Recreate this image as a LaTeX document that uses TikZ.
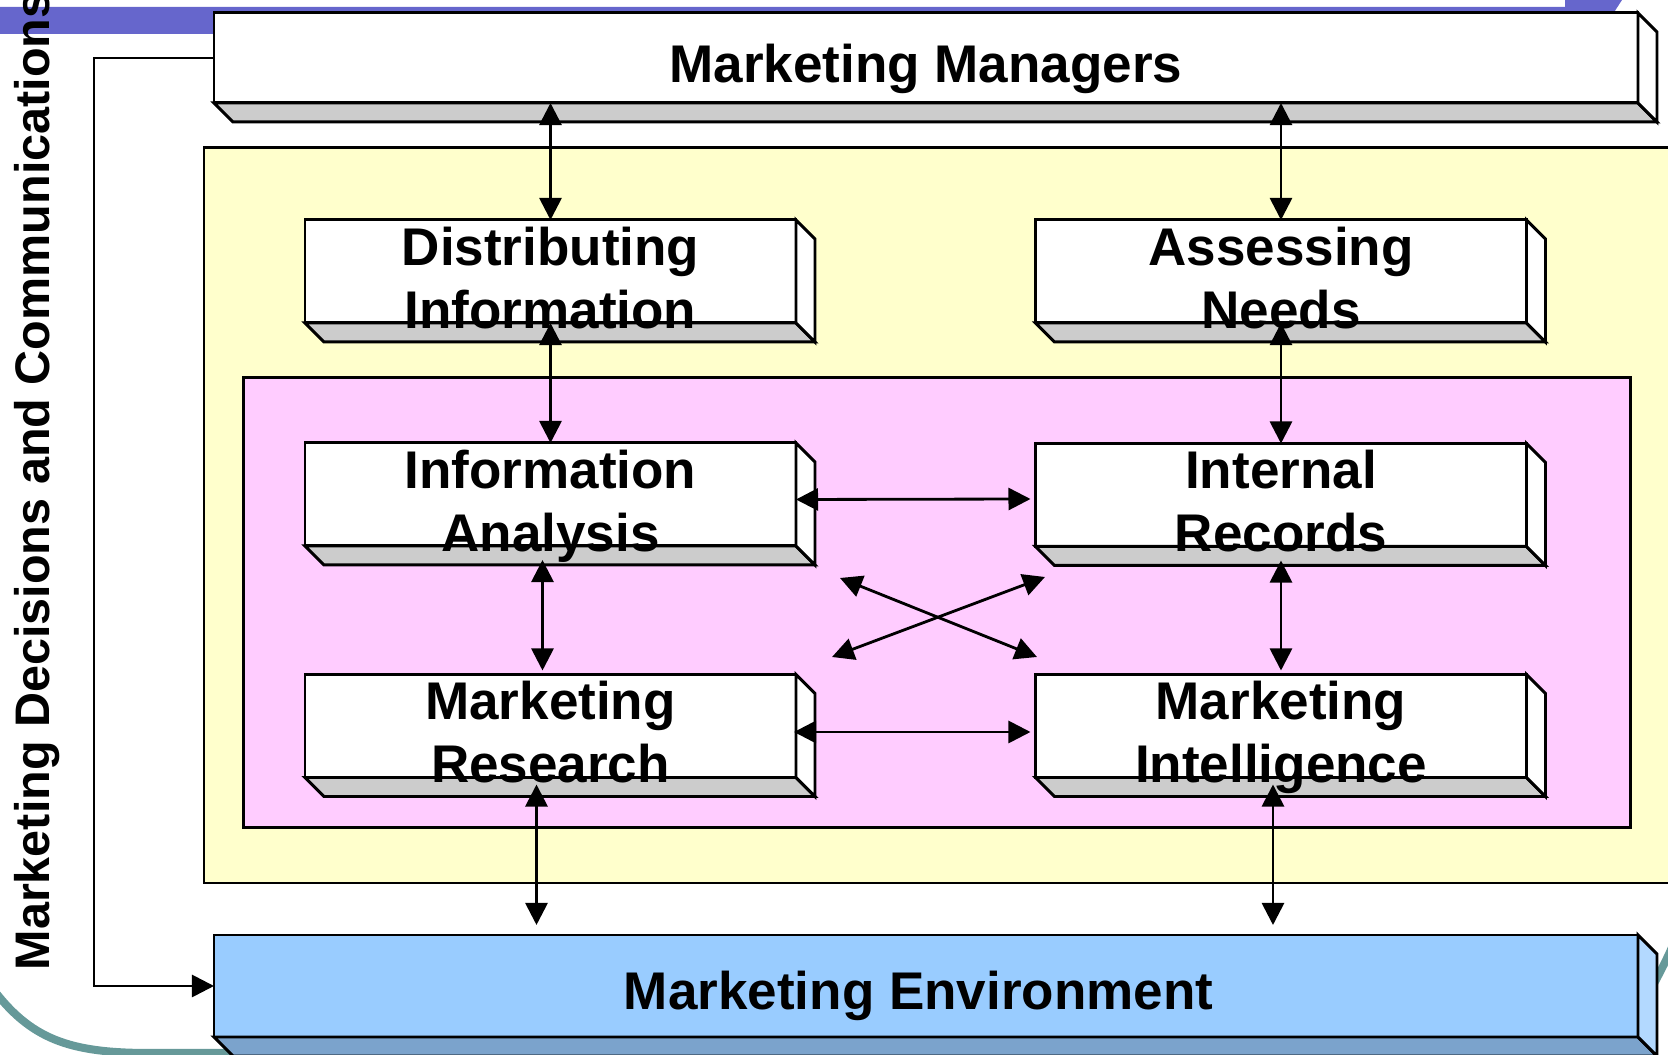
\documentclass[tikz,border=0pt]{standalone}
\usepackage{fontspec}
\setmainfont{Liberation Sans}
\usetikzlibrary{arrows.meta, calc}

\definecolor{band}{HTML}{6666CC}
\definecolor{ylw}{HTML}{FFFFCC}
\definecolor{pnk}{HTML}{FFCCFF}
\definecolor{shade}{HTML}{CCCCCC}
\definecolor{envfront}{HTML}{99CCFF}
\definecolor{envbottom}{HTML}{7BA3CC}
\definecolor{envside}{HTML}{B3D9FF}
\definecolor{frame}{HTML}{669999}

\tikzset{
  face/.style={draw, line width=0.85pt, inner sep=0pt, outer sep=0pt},
  boxtext/.style={font=\fontsize{15.08pt}{17.93pt}\selectfont\bfseries, align=center, inner sep=0pt},
  link/.style={line width=0.8pt, {Triangle[length=0.22cm,width=0.22cm]}-{Triangle[length=0.22cm,width=0.22cm]}},
}

\begin{document}
\begin{tikzpicture}[x=0.01cm, y=-0.01cm]
  \def\depth{19}
  \useasboundingbox (0,0) rectangle (1668,1055);
  \clip (0,0) rectangle (1668,1055);
  % slide decoration
  \fill[band] (0,7) -- (1565,7) -- (1565,0) -- (1622,0) -- (1600,34) -- (0,34) -- cycle;
  \draw[frame, line width=0.08cm] (-10,985) .. controls (30,1040) and (70,1053) .. (150,1053) -- (300,1053);
  \draw[frame, line width=0.08cm] (1690,900) .. controls (1672,950) .. (1640,1010);
  % outer and inner areas
  \filldraw[fill=ylw, line width=0.85pt] (204,148) rectangle (1690,883);
  \filldraw[fill=pnk, line width=0.85pt] (243.6,377.6) rectangle (1630.8,827.6);
  % raised boxes: front face, bottom face, side face, text
  \foreach \name/\x/\y/\w/\h/\front/\bottom/\side/\drop/\txt in {
    managers/926/58/1424/90/white/shade/white/30/{Marketing Managers},
    distrib/550.5/271.5/491/103/white/shade/white/6/{Distributing\\Information},
    needs/1281/271.5/491/103/white/shade/white/6/{Assessing\\Needs},
    analysis/550.5/494.5/491/103/white/shade/white/6/{Information\\Analysis},
    records/1281/495/491/103/white/shade/white/6/{Internal\\Records},
    research/550.5/726/491/103/white/shade/white/6/{Marketing\\Research},
    intel/1281/726/491/103/white/shade/white/6/{Marketing\\Intelligence},
    environ/926/986/1424/102/envfront/envbottom/envside/35/{Marketing Environment}
  }{
    \node[face, fill=\front, minimum width=\w*0.01cm, minimum height=\h*0.01cm] (\name) at (\x,\y) {};
    \filldraw[fill=\bottom, line width=0.85pt] (\name.south west) -- ++(\depth,\depth)
      -- ($(\name.south east)+(\depth,\depth)$) -- (\name.south east) -- cycle;
    \filldraw[fill=\side, line width=0.85pt] (\name.north east) -- ++(\depth,\depth)
      -- ($(\name.south east)+(\depth,\depth)$) -- (\name.south east) -- cycle;
    \node[boxtext, anchor=north] (\name-t) at ($(\name.north)+(0,\drop)$) {\txt};
  }
  % side label
  \node[font=\fontsize{13.8pt}{16pt}\selectfont\bfseries, rotate=90, anchor=base west, inner sep=0pt]
    (decisions) at (50,971) {Marketing Decisions and Communications};
  % vertical links
  \draw[link] (managers.south -| distrib.north) -- (distrib.north);
  \draw[link] (managers.south -| needs.north) -- (needs.north);
  \draw[link] (distrib.south) -- (analysis.north);
  \draw[link] (needs.south) -- (records.north);
  \draw[link] ($(analysis.south)+(-8,14)$) -- ($(research.north)+(-8,-4)$);
  \draw[link] ($(records.south)+(0,14)$) -- ($(intel.north)+(0,-4)$);
  \draw[link] ($(research.south)+(-14,7)$) -- ($(environ.north -| research.south)+(-14,-10)$);
  \draw[link] ($(intel.south)+(-8,7)$) -- ($(environ.north -| intel.south)+(-8,-10)$);
  % horizontal links
  \draw[link] ($(analysis.east)+(0,5)$) -- ($(records.west)+(-5,4)$);
  \draw[link] ($(research.east)+(-2,6)$) -- ($(intel.west)+(-5,6)$);
  % crossing links
  \coordinate (xa) at (840,578);
  \coordinate (xb) at (1037,657);
  \coordinate (xc) at (832,657);
  \coordinate (xd) at (1045,577);
  \draw[link] (xa) -- (xb);
  \draw[link] (xc) -- (xd);
  % feedback loop
  \draw[line width=0.8pt, -{Triangle[length=0.22cm,width=0.22cm]}] (managers.west) -- ++(-120,0) |- (environ.west);
\end{tikzpicture}
\end{document}
